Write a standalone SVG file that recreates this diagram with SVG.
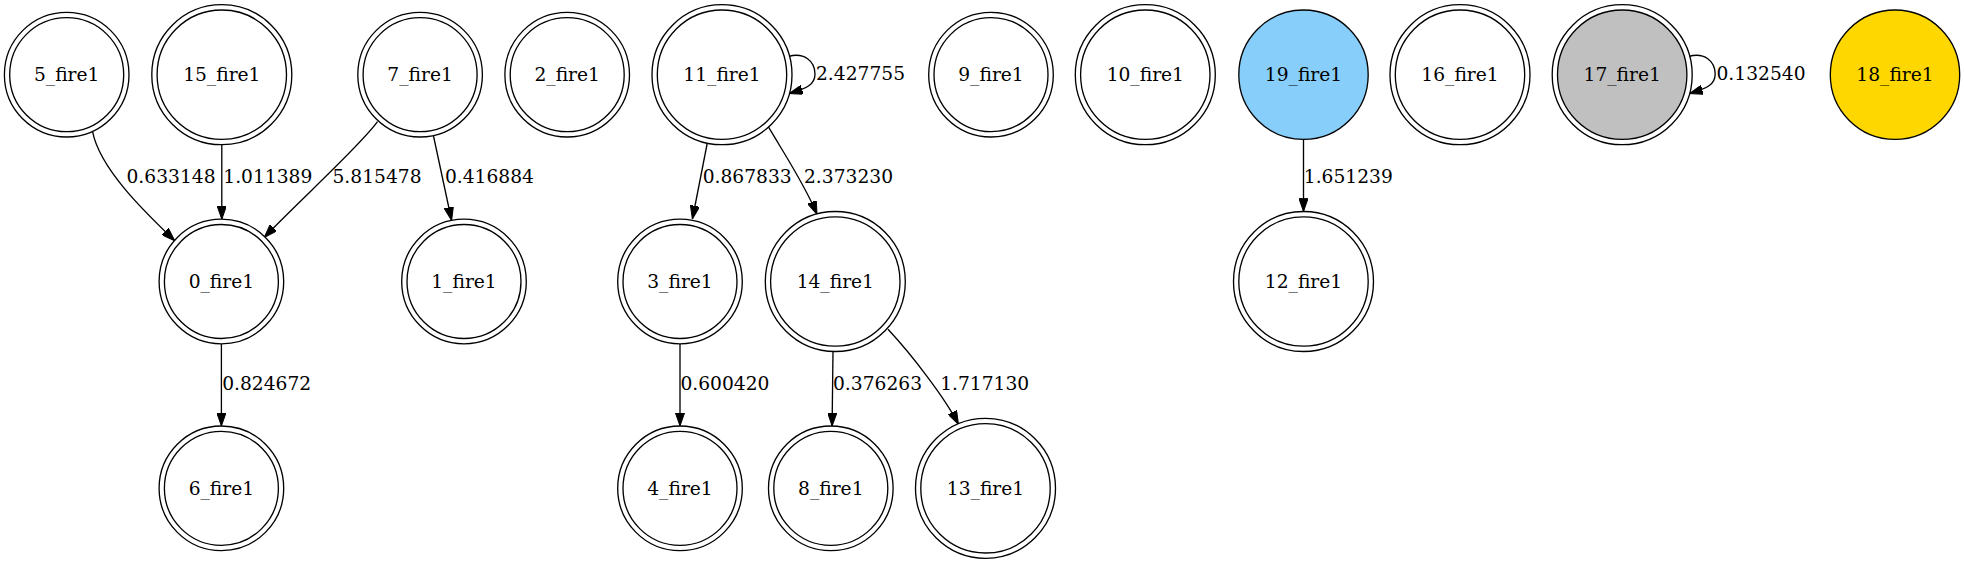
<svg xmlns="http://www.w3.org/2000/svg" width="1964" height="563" viewBox="0 0 1964 563">
<style>
.n{fill:none;stroke:#000;stroke-width:1.33}
.w{fill:#fff;stroke:#000;stroke-width:1.33}
text{font-family:"DejaVu Serif","Liberation Serif",serif;font-size:18.67px;fill:#000}
.c{text-anchor:middle}
.e path{fill:none;stroke:#000;stroke-width:1.33;marker-end:url(#a)}
</style>
<defs>
<marker id="a" viewBox="0 0 13.33 9.33" refX="13.33" refY="4.67" markerWidth="13.33" markerHeight="9.33" markerUnits="userSpaceOnUse" orient="auto">
<path d="M0,0 L13.33,4.67 L0,9.33 z" fill="#000" stroke="#000" stroke-width="1"/>
</marker>
</defs>
<rect width="1964" height="563" fill="#fff"/>
<g id="connectors" class="e">
<path d="M92.6,131.7 C100,170 148,215 174.7,240.7"/>
<path d="M221.8,144.7 L221.8,219.3"/>
<path d="M377.5,121.7 C360,146 300,200 264.3,237.3"/>
<path d="M433.5,136 L451.6,220.5"/>
<path d="M221.4,343.8 L221.4,426"/>
<path d="M788.5,56.5 C804,52 815,61 815,74 C815,84 808,88 789.3,93.5"/>
<path d="M707.1,144 L692.4,219"/>
<path d="M768.3,126.7 C785,155 805,185 817,214.3"/>
<path d="M680,343.8 L680,426"/>
<path d="M833,351.5 L832.1,426"/>
<path d="M888,329.3 C912,355 945,398 958.5,424.3"/>
<path d="M1303.5,139.4 L1303.5,211.5"/>
<path d="M1688.7,56.5 C1704.2,52 1715.2,61 1715.2,74 C1715.2,84 1708.2,88 1689.5,93.5"/>
</g>
<g id="edge-labels">
<text x="126.5" y="183.3">0.633148</text>
<text x="223.3" y="183.3">1.011389</text>
<text x="332.5" y="183.3">5.815478</text>
<text x="444.9" y="183.3">0.416884</text>
<text x="222.2" y="390">0.824672</text>
<text x="816" y="80">2.427755</text>
<text x="702.7" y="183.3">0.867833</text>
<text x="804" y="183.3">2.373230</text>
<text x="680.4" y="390">0.600420</text>
<text x="833" y="390">0.376263</text>
<text x="940.2" y="390">1.717130</text>
<text x="1303.8" y="183.3">1.651239</text>
<text x="1716.5" y="80">0.132540</text>
</g>
<g id="node-5"><circle class="w" cx="66.7" cy="74.7" r="62.3"/><circle class="n" cx="66.7" cy="74.7" r="57"/><text class="c" x="66.7" y="81.2">5_fire1</text></g>
<g id="node-15"><circle class="w" cx="221.8" cy="74.7" r="70"/><circle class="n" cx="221.8" cy="74.7" r="64.7"/><text class="c" x="221.8" y="81.2">15_fire1</text></g>
<g id="node-7"><circle class="w" cx="420.1" cy="74.7" r="62.3"/><circle class="n" cx="420.1" cy="74.7" r="57"/><text class="c" x="420.1" y="81.2">7_fire1</text></g>
<g id="node-2"><circle class="w" cx="567.2" cy="74.7" r="62.3"/><circle class="n" cx="567.2" cy="74.7" r="57"/><text class="c" x="567.2" y="81.2">2_fire1</text></g>
<g id="node-11"><circle class="w" cx="722" cy="74.7" r="70"/><circle class="n" cx="722" cy="74.7" r="64.7"/><text class="c" x="722" y="81.2">11_fire1</text></g>
<g id="node-9"><circle class="w" cx="991" cy="74.7" r="62.3"/><circle class="n" cx="991" cy="74.7" r="57"/><text class="c" x="991" y="81.2">9_fire1</text></g>
<g id="node-10"><circle class="w" cx="1145.3" cy="74.7" r="70"/><circle class="n" cx="1145.3" cy="74.7" r="64.7"/><text class="c" x="1145.3" y="81.2">10_fire1</text></g>
<g id="node-19"><circle cx="1303.5" cy="74.7" r="64.7" fill="#87cefa" stroke="#000" stroke-width="1.33"/><text class="c" x="1303.5" y="81.2">19_fire1</text></g>
<g id="node-16"><circle class="w" cx="1460" cy="74.7" r="70"/><circle class="n" cx="1460" cy="74.7" r="64.7"/><text class="c" x="1460" y="81.2">16_fire1</text></g>
<g id="node-17"><circle class="w" cx="1622.2" cy="74.7" r="70"/><circle cx="1622.2" cy="74.7" r="64.7" fill="#c0c0c0" stroke="#000" stroke-width="1.33"/><text class="c" x="1622.2" y="81.2">17_fire1</text></g>
<g id="node-18"><circle cx="1895" cy="74.7" r="64.7" fill="#ffd700" stroke="#000" stroke-width="1.33"/><text class="c" x="1895" y="81.2">18_fire1</text></g>
<g id="node-0"><circle class="w" cx="221.4" cy="281.5" r="62.3"/><circle class="n" cx="221.4" cy="281.5" r="57"/><text class="c" x="221.4" y="288">0_fire1</text></g>
<g id="node-1"><circle class="w" cx="464" cy="281.5" r="62.3"/><circle class="n" cx="464" cy="281.5" r="57"/><text class="c" x="464" y="288">1_fire1</text></g>
<g id="node-3"><circle class="w" cx="680" cy="281.5" r="62.3"/><circle class="n" cx="680" cy="281.5" r="57"/><text class="c" x="680" y="288">3_fire1</text></g>
<g id="node-14"><circle class="w" cx="835.3" cy="281.5" r="70"/><circle class="n" cx="835.3" cy="281.5" r="64.7"/><text class="c" x="835.3" y="288">14_fire1</text></g>
<g id="node-12"><circle class="w" cx="1303.5" cy="281.5" r="70"/><circle class="n" cx="1303.5" cy="281.5" r="64.7"/><text class="c" x="1303.5" y="288">12_fire1</text></g>
<g id="node-6"><circle class="w" cx="221.4" cy="488.3" r="62.3"/><circle class="n" cx="221.4" cy="488.3" r="57"/><text class="c" x="221.4" y="494.8">6_fire1</text></g>
<g id="node-4"><circle class="w" cx="680" cy="488.3" r="62.3"/><circle class="n" cx="680" cy="488.3" r="57"/><text class="c" x="680" y="494.8">4_fire1</text></g>
<g id="node-8"><circle class="w" cx="830.8" cy="488.3" r="62.3"/><circle class="n" cx="830.8" cy="488.3" r="57"/><text class="c" x="830.8" y="494.8">8_fire1</text></g>
<g id="node-13"><circle class="w" cx="985.5" cy="488.3" r="70"/><circle class="n" cx="985.5" cy="488.3" r="64.7"/><text class="c" x="985.5" y="494.8">13_fire1</text></g>
</svg>
